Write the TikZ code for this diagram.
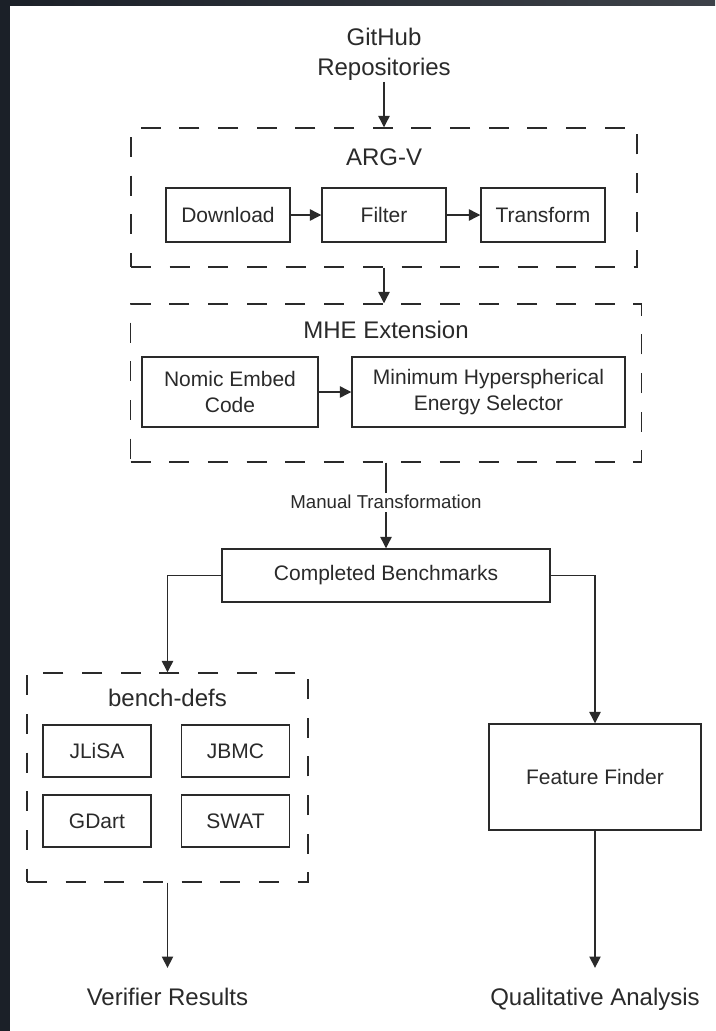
\documentclass[tikz,border=0pt]{standalone}
\usepackage{fontspec}
\setmainfont{Liberation Sans}
\usetikzlibrary{arrows.meta}
\definecolor{frame}{HTML}{1B2028}
\definecolor{ink}{HTML}{2A2A2A}

\begin{document}
\begin{tikzpicture}[x=0.75pt,y=-0.75pt,
  sz/.style 2 args={minimum width=#1*0.75pt,minimum height=#2*0.75pt},
  box/.style={draw=ink,line width=1.1pt,text=ink,inner sep=0pt,align=center,font=\fontsize{15.75}{20}\selectfont},
  grp/.style={draw=ink,line width=1.1pt,dash pattern=on 15pt off 14pt,inner sep=0pt},
  ttl/.style={text=ink,inner sep=1pt,align=center,font=\fontsize{18}{22.5}\selectfont},
  endtxt/.style={ttl,inner ysep=15pt,anchor=base},
  lbl/.style={fill=white,text=ink,inner sep=2pt,font=\fontsize{14}{17}\selectfont},
  arr/.style={draw=ink,line width=1pt,-{Triangle[length=8.5pt,width=8.5pt]}}]
\fill[white] (0,0) rectangle (715,1031);
\fill[frame] (0,0) rectangle (10,1031);
\shade[left color=frame,right color=frame!85!white] (0,0) rectangle (715,6);
\useasboundingbox (0,0) rectangle (715,1031);

\node[ttl] (github) at (384,54) {GitHub\\Repositories};

\node[grp,sz={506}{139}] (argv) at (384,197.5) {};
\node[ttl] at (384,157) {ARG-V};
\node[box,sz={124}{54}] (dl) at (228,215) {Download};
\node[box,sz={124}{54}] (flt) at (384,215) {Filter};
\node[box,sz={124}{54}] (tf) at (543,215) {Transform};

\node[grp,sz={511}{158}] (mhe) at (386,383) {};
\node[ttl] at (386,330) {MHE Extension};
\node[box,sz={176}{70}] (nomic) at (230,392) {Nomic Embed\\Code};
\node[box,sz={273}{70}] (mhes) at (488.5,392) {Minimum Hyperspherical\\Energy Selector};

\node[box,sz={328}{53}] (cb) at (386,575.5) {Completed Benchmarks};

\node[grp,sz={281}{209}] (bench) at (167.5,777.5) {};
\node[ttl] at (167.5,698) {bench-defs};
\node[box,sz={108}{52}] (jlisa) at (97,751) {JLiSA};
\node[box,sz={108}{52}] (jbmc) at (235.5,751) {JBMC};
\node[box,sz={108}{52}] (gdart) at (97,821) {GDart};
\node[box,sz={108}{52}] (swat) at (235.5,821) {SWAT};

\node[box,sz={212}{106}] (ff) at (595,777) {Feature Finder};

\node[endtxt] (verif) at (167.5,1005.5) {Verifier Results};
\node[endtxt] (qual) at (595,1005.5) {Qualitative Analysis};

\draw[arr] (github) -- (argv);
\draw[arr] (dl) -- (flt);
\draw[arr] (flt) -- (tf);
\draw[arr] (argv.south) -- (argv.south |- mhe.north);
\draw[arr] (nomic) -- (mhes);
\draw[arr] (mhe) -- node[lbl,pos=0.46]{Manual Transformation} (cb);
\draw[arr] (cb.west) -| (bench.north);
\draw[arr] (cb.east) -| (ff.north);
\draw[arr] (bench.south) -- (verif.north);
\draw[arr] (ff.south) -- (qual.north);
\end{tikzpicture}
\end{document}
